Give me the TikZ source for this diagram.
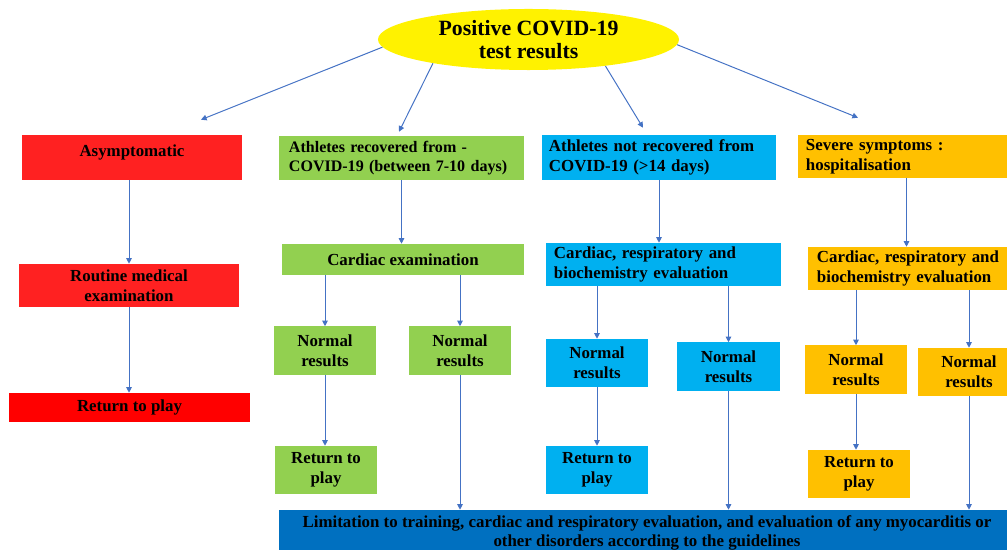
\documentclass[tikz,border=0pt]{standalone}
\usepackage{fontspec}
\setmainfont{Liberation Serif}
\usepackage{xcolor}
\usepackage{tikz}
\usetikzlibrary{shapes.geometric,arrows.meta,calc}

\definecolor{redA}{HTML}{FF2121}
\definecolor{redB}{HTML}{FF0000}
\definecolor{greenA}{HTML}{92D050}
\definecolor{cyanA}{HTML}{00B0F0}
\definecolor{orangeA}{HTML}{FFC000}
\definecolor{blueA}{HTML}{0070C0}
\definecolor{arrowA}{HTML}{4472C4}

\begin{document}
\begin{tikzpicture}[x=0.025cm, y=-0.025cm,
box/.style={rectangle, inner sep=0pt, align=center, font=\fontsize{12}{14}\selectfont\bfseries},
leftbox/.style={box, align=left, inner xsep=0.2cm},
small/.style={box, minimum width=2.55cm, minimum height=1.2cm},
oval/.style={ellipse, fill=yellow, inner sep=0pt, minimum width=7.525cm, minimum height=1.525cm, align=center, font=\fontsize{15.5}{16.5}\selectfont\bfseries},
arr/.style={draw=arrowA, line width=0.7pt, -{Triangle[width=4pt,length=4pt]}}]
\useasboundingbox (0,0) rectangle (1007,550);

% start
\node[oval] (pos) at (528.5,39.5) {Positive COVID-19\\test results};

% first row
\node[box, fill=redA, minimum width=5.5cm, minimum height=1.125cm, text depth=0.35cm] (asym) at (132,157.5) {Asymptomatic};
\node[leftbox, fill=greenA, minimum width=6.125cm, minimum height=1.1cm, text width=5.625cm, inner xsep=0.25cm, font=\fontsize{11.4}{14}\selectfont\bfseries] (rec) at (401.5,158) {Athletes recovered from -\\COVID-19 (between 7-10 days)};
\node[leftbox, fill=cyanA, minimum width=5.85cm, minimum height=1.125cm, text width=5.5cm, inner xsep=0.175cm] (notrec) at (659,157.5) {Athletes not recovered from\\COVID-19 (>14 days)};
\node[leftbox, fill=orangeA, minimum width=5.425cm, minimum height=1.075cm, text width=5.025cm] (severe) at (906.5,156.5) {Severe symptoms :\\hospitalisation};

% second row
\node[box, fill=redA, minimum width=5.5cm, minimum height=1.075cm] (routine) at (129,285.5) {Routine medical\\examination};
\node[box, fill=greenA, minimum width=6.05cm, minimum height=0.775cm] (cardexam) at (403,259.5) {Cardiac examination};
\node[leftbox, fill=cyanA, minimum width=5.875cm, minimum height=1.075cm, text width=5.475cm] (beval) at (663.5,264.5) {Cardiac, respiratory and\\biochemistry evaluation};
\node[leftbox, fill=orangeA, minimum width=5.175cm, minimum height=1.075cm, text width=4.725cm, inner xsep=0.225cm] (oeval) at (911.5,268.5) {Cardiac, respiratory and\\biochemistry evaluation};

% third row
\node[box, fill=redB, minimum width=6.025cm, minimum height=0.725cm] (rplay) at (129.5,407.5) {Return to play};
\node[small, fill=greenA] (gnorm1) at (325,350.5) {Normal\\results};
\node[small, fill=greenA] (gnorm2) at (460,350.5) {Normal\\results};
\node[small, fill=cyanA] (bnorm1) at (597,363) {Normal\\results};
\node[small, fill=cyanA] (bnorm2) at (728.5,366.5) {Normal\\results};
\node[small, fill=orangeA] (onorm1) at (856,369.5) {Normal\\results};
\node[small, fill=orangeA] (onorm2) at (969,372) {Normal\\results};

% fourth row
\node[small, fill=greenA] (gplay) at (326,470) {Return to\\play};
\node[small, fill=cyanA] (bplay) at (597,470) {Return to\\play};
\node[small, fill=orangeA] (oplay) at (859,474) {Return to\\play};

% bottom
\node[box, fill=blueA, minimum width=18.4cm, minimum height=1.15cm, font=\fontsize{12}{13}\selectfont\bfseries] (limit) at (647,533) {Limitation to training, cardiac and respiratory evaluation, and evaluation of any myocarditis or\\other disorders according to the guidelines};

% arrows
\draw[arr] (pos.183) -- ($(asym.north)+(69,-15)$);
\draw[arr] (pos.194) -- ($(rec.north)+(-2.5,-4)$);
\draw[arr] (pos.341) -- ($(notrec.north)+(-16,-7)$);
\draw[arr] (pos.358) -- ($(severe.north)+(-48.5,-17)$);

\draw[arr] (routine.north |- asym.south) -- (routine.north);
\draw[arr] (routine.south) -- (routine.south |- rplay.north);

\draw[arr] (rec.south) -- (rec.south |- cardexam.north);
\draw[arr] (gnorm1.north |- cardexam.south) -- (gnorm1.north);
\draw[arr] (gnorm2.north |- cardexam.south) -- (gnorm2.north);
\draw[arr] (gnorm1.south) -- (gnorm1.south |- gplay.north);
\draw[arr] (gnorm2.south) -- (gnorm2.south |- limit.north);

\draw[arr] (notrec.south) -- (notrec.south |- beval.north);
\draw[arr] (bnorm1.north |- beval.south) -- (bnorm1.north);
\draw[arr] (bnorm2.north |- beval.south) -- (bnorm2.north);
\draw[arr] (bnorm1.south) -- (bnorm1.south |- bplay.north);
\draw[arr] (bnorm2.south) -- (bnorm2.south |- limit.north);

\draw[arr] (severe.south) -- (severe.south |- oeval.north);
\draw[arr] (onorm1.north |- oeval.south) -- (onorm1.north);
\draw[arr] (onorm2.north |- oeval.south) -- (onorm2.north);
\draw[arr] (onorm1.south) -- (onorm1.south |- oplay.north);
\draw[arr] (onorm2.south) -- (onorm2.south |- limit.north);
\end{tikzpicture}
\end{document}
